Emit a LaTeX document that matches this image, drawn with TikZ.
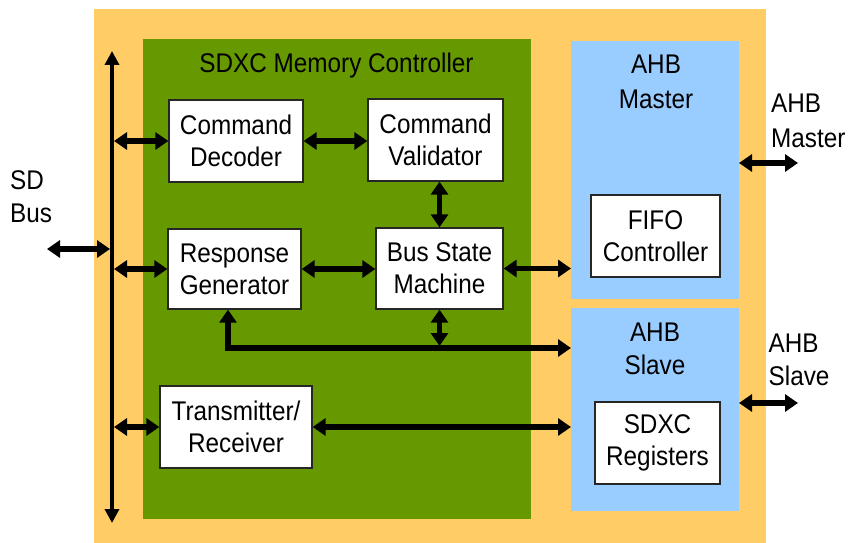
\documentclass[tikz,border=0pt]{standalone}
\usepackage{fontspec}
\setmainfont{Liberation Sans}[FakeStretch=0.9]
\usetikzlibrary{arrows.meta}
\definecolor{orangebg}{HTML}{FFCC66}
\definecolor{greenbg}{HTML}{669900}
\definecolor{bluebg}{HTML}{99CCFF}
\begin{document}
\begin{tikzpicture}[x=1pt,y=-1pt,
  txt/.style={font=\fontsize{27}{32}\selectfont, inner sep=0pt},
  wbox/.style={txt, draw=black!85, line width=1.3pt, fill=white, align=center},
  region/.style={inner sep=0pt, outer sep=0pt, draw=none},
  tip/.tip={Triangle[length=13pt,width=17pt]},
  dbl/.style={line width=5.2pt, tip-tip},
  busline/.style={line width=3.8pt, {Triangle[length=14pt,width=14pt]}-{Triangle[length=14pt,width=14pt]}}
]
\useasboundingbox (0,0) rectangle (848,543);

% regions
\node[region, fill=orangebg, minimum width=672pt, minimum height=534pt] (outer) at (430,276) {};
\node[region, fill=greenbg, minimum width=388pt, minimum height=480pt] (mc) at (337,279) {};
\node[region, fill=bluebg, minimum width=168pt, minimum height=258pt] (am) at (655,170) {};
\node[region, fill=bluebg, minimum width=168pt, minimum height=203pt] (as) at (655,409.5) {};

% titles
\node[txt, anchor=base] (mctitle) at (336.5,72) {SDXC Memory Controller};
\node[txt, align=center, font=\fontsize{27}{35}\selectfont] (amtitle) at (656,82) {AHB\\Master};
\node[txt, align=center, font=\fontsize{27}{33}\selectfont] (astitle) at (655,349) {AHB\\Slave};

% external labels
\node[txt, align=left, anchor=west, font=\fontsize{27}{33}\selectfont] (sdlabel) at (10,196.5) {SD\\Bus};
\node[txt, align=left, anchor=west, font=\fontsize{27}{35}\selectfont] (amlabel) at (771,121) {AHB\\Master};
\node[txt, align=left, anchor=west, font=\fontsize{27}{33}\selectfont] (aslabel) at (768.5,359.5) {AHB\\Slave};

% white boxes
\node[wbox, minimum width=134pt, minimum height=82pt] (cd) at (236,141) {Command\\Decoder};
\node[wbox, minimum width=135pt, minimum height=82pt] (cv) at (435.5,140) {Command\\Validator};
\node[wbox, minimum width=133pt, minimum height=80pt] (rg) at (234.5,269) {Response\\Generator};
\node[wbox, minimum width=127pt, minimum height=81pt] (bsm) at (439.5,268.5) {Bus State\\Machine};
\node[wbox, minimum width=152pt, minimum height=82pt] (tx) at (236,427) {Transmitter/\\Receiver};
\node[wbox, minimum width=129pt, minimum height=82pt] (fifo) at (655.5,236) {FIFO\\Controller};
\node[wbox, minimum width=125pt, minimum height=82pt] (reg) at (657.5,443) {SDXC\\Registers};

% SD bus
\coordinate (bustop) at (112,51);
\coordinate (busbot) at (112,523);
\draw[busline] (busbot) -- (bustop);
\coordinate (sdl) at (47,249);
\draw[dbl, shorten >=2pt] (sdl) -- (sdl -| bustop);

% bus to blocks
\draw[dbl, shorten <=2pt] (cd.west -| bustop) -- (cd.west);
\draw[dbl, shorten <=2pt] (rg.west -| bustop) -- (rg.west);
\draw[dbl, shorten <=2pt] (tx.west -| bustop) -- (tx.west);

% internal connectors
\draw[dbl] (cd.east) -- (cd.east -| cv.west);
\draw[dbl] (bsm.north |- cv.south) -- (bsm.north);
\draw[dbl] (rg.east) -- (rg.east -| bsm.west);
\draw[dbl] (bsm.east) -- (bsm.east -| am.west);
\coordinate (j) at (228,348);
\draw[dbl] (rg.south -| j) -- (j) -- (j -| as.west);
\draw[dbl, shorten >=2pt] (bsm.south) -- (bsm.south |- j);
\draw[dbl] (tx.east) -- (tx.east -| as.west);

% external AHB
\coordinate (amx) at (798,163);
\coordinate (asx) at (798,403);
\draw[dbl] (amx -| am.east) -- (amx);
\draw[dbl] (asx -| as.east) -- (asx);
\end{tikzpicture}
\end{document}
